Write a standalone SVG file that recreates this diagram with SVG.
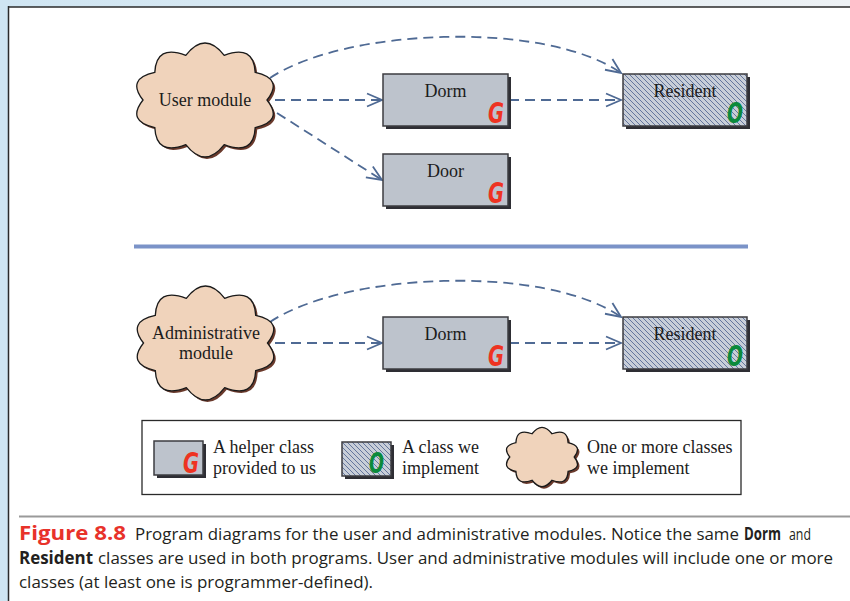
<svg xmlns="http://www.w3.org/2000/svg" xmlns:xlink="http://www.w3.org/1999/xlink" width="850" height="601" viewBox="0 0 850 601">
  <style>
    .lbl{font-family:"Liberation Serif","Times New Roman",serif;font-size:18px;fill:#1c1c1c}
    .box{fill:#bdc3cc;stroke:#3c3c40;stroke-width:1.5}
    .impl{fill:url(#hatch);stroke:#3c3c40;stroke-width:1.5}
    .shadow{fill:#2e2e34}
    .cloud{fill:#f0d3bb;stroke:#1a1a1a;stroke-width:1.3}
    .cloudsh{fill:#6a3a2c}
    .mark{font-family:"DejaVu Sans",sans-serif;font-style:italic;font-weight:bold;font-size:28px}
    .g{fill:#ee3322}
    .o{fill:#0b8a3c}
    .dash{fill:none;stroke:#4f6a94;stroke-width:1.8;stroke-dasharray:10 6}
    .cap{font-family:"Open Sans","Liberation Sans",sans-serif;font-size:17px;fill:#231f20}
  </style>
  <defs>
    <linearGradient id="band" x1="0" y1="0" x2="1" y2="0">
      <stop offset="0" stop-color="#cfe5f2"/>
      <stop offset="1" stop-color="#eef2f5"/>
    </linearGradient>
    <pattern id="hatch" width="5" height="5" patternUnits="userSpaceOnUse">
      <rect width="5" height="5" fill="#c8ced8"/>
      <path d="M-1,-1 L6,6 M-1,4 L1,6 M4,-1 L6,1" stroke="#4a5f8e" stroke-width="0.8"/>
    </pattern>
    <!-- scalloped cloud outline centred on 0,0 -->
    <path id="cloudShape" d="M62,0 Q78.9,21.4 50.2,27.6 Q48.8,56.1 19.2,44.7 Q0,69.3 -19.2,44.7 Q-48.8,56.1 -50.2,27.6 Q-78.9,21.4 -62,0 Q-78.9,-21.4 -50.2,-27.6 Q-48.8,-56.1 -19.2,-44.7 Q0,-69.3 19.2,-44.7 Q48.8,-56.1 50.2,-27.6 Q78.9,-21.4 62,0 Z"/>
    <marker id="arr" viewBox="-17 -9 21 18" refX="0" refY="0" markerWidth="21" markerHeight="18" markerUnits="userSpaceOnUse" orient="auto">
      <path d="M-15,-6.5 L0,0 L-15,6.5" fill="none" stroke="#4f6a94" stroke-width="1.8"/>
    </marker>
  </defs>

  <!-- page frame -->
  <rect x="0" y="0" width="850" height="601" fill="#ffffff"/>
  <rect x="0" y="0" width="850" height="7" fill="url(#band)"/>
  <rect x="0" y="0" width="8" height="601" fill="#cfe5f2"/>
  <line x1="8.5" y1="6" x2="8.5" y2="601" stroke="#2a2a2a" stroke-width="1.5"/>
  <line x1="8" y1="7" x2="850" y2="7" stroke="#2a2a2a" stroke-width="1.5"/>

  <!-- connectors -->
  <g id="connectors" class="dash">
    <path d="M275,100 L382,100" marker-end="url(#arr)"/>
    <path d="M277,113 L382,180" marker-end="url(#arr)"/>
    <path d="M270,78 C345,28 545,20 621,73" marker-end="url(#arr)"/>
    <path d="M509,100 L621,100" marker-end="url(#arr)"/>
    <path d="M275,343 L382,343" marker-end="url(#arr)"/>
    <path d="M270,322 C345,272 545,264 621,317" marker-end="url(#arr)"/>
    <path d="M509,343 L621,343" marker-end="url(#arr)"/>
  </g>

  <!-- upper program -->
  <g id="user-module">
    <use xlink:href="#cloudShape" class="cloudsh" transform="translate(207,102)"/>
    <use xlink:href="#cloudShape" class="cloud" transform="translate(205,100)"/>
    <text class="lbl" x="205" y="106" text-anchor="middle">User module</text>
  </g>
  <g id="dorm-1">
    <rect class="shadow" x="386" y="77" width="125" height="52"/>
    <rect class="box" x="383" y="74" width="125" height="52"/>
    <text class="lbl" x="445.5" y="97" text-anchor="middle">Dorm</text>
    <text class="mark g" x="488" y="123" textLength="16" lengthAdjust="spacingAndGlyphs">G</text>
  </g>
  <g id="door">
    <rect class="shadow" x="386" y="157" width="125" height="52"/>
    <rect class="box" x="383" y="154" width="125" height="52"/>
    <text class="lbl" x="445.5" y="177" text-anchor="middle">Door</text>
    <text class="mark g" x="488" y="203" textLength="16" lengthAdjust="spacingAndGlyphs">G</text>
  </g>
  <g id="resident-1">
    <rect class="shadow" x="626" y="77" width="124" height="52"/>
    <rect class="impl" x="623" y="74" width="124" height="52"/>
    <text class="lbl" x="685" y="97" text-anchor="middle">Resident</text>
    <text class="mark o" x="727" y="123" textLength="16" lengthAdjust="spacingAndGlyphs">O</text>
  </g>

  <!-- divider between the two programs -->
  <line id="divider" x1="134" y1="246.5" x2="748" y2="246.5" stroke="#7b93c8" stroke-width="4"/>

  <!-- lower program -->
  <g id="admin-module">
    <use xlink:href="#cloudShape" class="cloudsh" transform="translate(207.5,345)"/>
    <use xlink:href="#cloudShape" class="cloud" transform="translate(205.5,343)"/>
    <text class="lbl" x="206" y="339" text-anchor="middle">Administrative</text>
    <text class="lbl" x="206" y="359" text-anchor="middle">module</text>
  </g>
  <g id="dorm-2">
    <rect class="shadow" x="386" y="320" width="125" height="52"/>
    <rect class="box" x="383" y="317" width="125" height="52"/>
    <text class="lbl" x="445.5" y="340" text-anchor="middle">Dorm</text>
    <text class="mark g" x="488" y="366" textLength="16" lengthAdjust="spacingAndGlyphs">G</text>
  </g>
  <g id="resident-2">
    <rect class="shadow" x="626" y="320" width="124" height="52"/>
    <rect class="impl" x="623" y="317" width="124" height="52"/>
    <text class="lbl" x="685" y="340" text-anchor="middle">Resident</text>
    <text class="mark o" x="727" y="366" textLength="16" lengthAdjust="spacingAndGlyphs">O</text>
  </g>

  <!-- key -->
  <g id="legend">
    <rect x="142" y="420.5" width="599" height="74" fill="#ffffff" stroke="#2a2a2a" stroke-width="1.3"/>
    <rect class="shadow" x="157" y="444" width="49" height="34"/>
    <rect class="box" x="154" y="441" width="49" height="34"/>
    <text class="mark g" x="183" y="473" textLength="16" lengthAdjust="spacingAndGlyphs">G</text>
    <text class="lbl" x="213" y="453">A helper class</text>
    <text class="lbl" x="213" y="474">provided to us</text>
    <rect class="shadow" x="345" y="445" width="49" height="34"/>
    <rect class="impl" x="342" y="442" width="49" height="34"/>
    <text class="mark o" x="369" y="473" textLength="15" lengthAdjust="spacingAndGlyphs">O</text>
    <text class="lbl" x="402" y="453">A class we</text>
    <text class="lbl" x="402" y="474">implement</text>
    <use xlink:href="#cloudShape" class="cloudsh" transform="translate(544,459) scale(0.52)"/>
    <use xlink:href="#cloudShape" class="cloud" style="stroke-width:2.5" transform="translate(542,457) scale(0.52)"/>
    <text class="lbl" x="587" y="453">One or more classes</text>
    <text class="lbl" x="587" y="474">we implement</text>
  </g>

  <!-- caption -->
  <line x1="19" y1="516.5" x2="850" y2="516.5" stroke="#9a9a9a" stroke-width="2"/>
  <text class="cap" x="19" y="540" font-weight="bold" style="fill:#e8322a;font-size:20px" textLength="107" lengthAdjust="spacingAndGlyphs">Figure 8.8</text>
  <text class="cap" x="135" y="540" textLength="604" lengthAdjust="spacingAndGlyphs">Program diagrams for the user and administrative modules. Notice the same</text>
  <text class="cap" x="744" y="540" font-weight="bold" textLength="37" lengthAdjust="spacingAndGlyphs">Dorm</text>
  <text class="cap" x="789" y="540" textLength="22" lengthAdjust="spacingAndGlyphs">and</text>
  <text class="cap" x="19" y="564" font-weight="bold" textLength="74" lengthAdjust="spacingAndGlyphs">Resident</text>
  <text class="cap" x="98" y="564" textLength="735" lengthAdjust="spacingAndGlyphs">classes are used in both programs. User and administrative modules will include one or more</text>
  <text class="cap" x="19" y="588" textLength="354" lengthAdjust="spacingAndGlyphs">classes (at least one is programmer-defined).</text>
</svg>
